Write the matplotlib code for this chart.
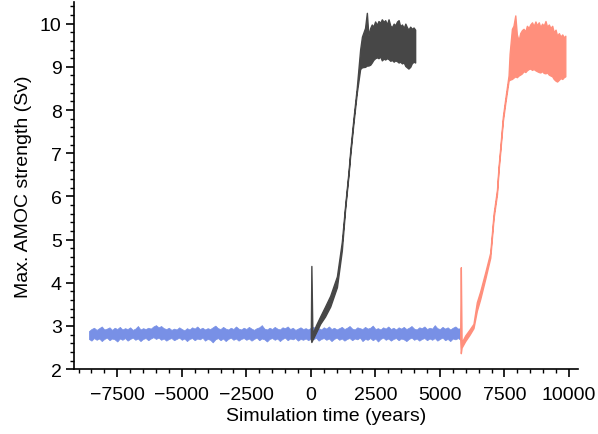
import numpy as np
import matplotlib
matplotlib.use("Agg")
import matplotlib.pyplot as plt
from matplotlib.ticker import MultipleLocator

plt.rcParams['font.family'] = ['Liberation Sans', 'DejaVu Sans']

# control run (blue): noise band envelope, every 100 years
ctrl_upper = [2.88, 2.93, 2.96, 2.91, 2.95, 2.99, 2.92, 2.94, 2.97, 2.91, 2.96, 2.93,
              2.98, 2.92, 2.95, 2.93, 2.97, 2.91, 2.94, 3.00, 2.92, 2.95, 2.93, 2.96,
              2.94, 2.99, 3.02, 2.97, 3.00, 2.95, 2.93, 2.96, 2.91, 2.94, 2.92, 2.97,
              2.93, 2.90, 2.95, 2.92, 2.97, 2.94, 2.99, 2.93, 2.96, 2.92, 2.95, 2.93,
              2.97, 3.01, 2.95, 2.93, 2.98, 2.94, 2.92, 2.96, 2.93, 2.99, 2.94, 2.92,
              2.96, 2.93, 2.98, 2.94, 2.91, 2.95, 2.97, 3.02, 2.94, 2.92, 2.96, 2.93,
              2.98, 2.94, 2.92, 2.97, 2.95, 2.99, 2.93, 2.96, 2.91, 2.94, 2.97, 2.93,
              2.95, 2.92, 2.96, 2.98, 2.93, 2.95, 2.92, 2.97, 2.94, 2.99, 2.93, 2.96,
              2.92, 2.95, 2.98, 2.93, 2.96, 3.00, 2.94, 2.92, 2.97, 2.95, 2.93, 2.98,
              2.94, 2.96, 3.01, 2.93, 2.95, 2.92, 2.97, 2.94, 2.99, 2.93, 2.96, 2.92,
              2.97, 2.94, 2.98, 2.93, 2.96, 3.00, 2.94, 2.92, 2.97, 2.95, 2.99, 2.93,
              2.96, 2.94, 3.02, 2.95, 2.93, 2.98, 2.94, 2.97, 2.92, 2.96, 2.99, 2.94,
              2.95]
ctrl_lower = [2.70, 2.66, 2.72, 2.68, 2.71, 2.65, 2.70, 2.73, 2.67, 2.71, 2.69, 2.64,
              2.71, 2.68, 2.72, 2.66, 2.70, 2.73, 2.68, 2.71, 2.65, 2.70, 2.72, 2.67,
              2.71, 2.74, 2.70, 2.73, 2.68, 2.71, 2.66, 2.70, 2.72, 2.67, 2.70, 2.73,
              2.68, 2.71, 2.65, 2.70, 2.72, 2.67, 2.71, 2.69, 2.73, 2.66, 2.70, 2.68,
              2.62, 2.69, 2.72, 2.67, 2.71, 2.65, 2.70, 2.73, 2.68, 2.71, 2.66, 2.70,
              2.72, 2.68, 2.71, 2.66, 2.70, 2.73, 2.67, 2.71, 2.69, 2.64, 2.70, 2.72,
              2.68, 2.71, 2.65, 2.70, 2.73, 2.67, 2.71, 2.69, 2.72, 2.66, 2.70, 2.68,
              2.71, 2.67, 2.72, 2.69, 2.73, 2.66, 2.70, 2.72, 2.68, 2.71, 2.65, 2.70,
              2.73, 2.68, 2.71, 2.66, 2.70, 2.72, 2.67, 2.71, 2.69, 2.73, 2.65, 2.70,
              2.68, 2.72, 2.67, 2.71, 2.64, 2.70, 2.73, 2.68, 2.71, 2.66, 2.70, 2.72,
              2.67, 2.71, 2.69, 2.65, 2.70, 2.73, 2.68, 2.71, 2.66, 2.70, 2.72, 2.67,
              2.71, 2.68, 2.72, 2.66, 2.70, 2.73, 2.67, 2.70, 2.65, 2.71, 2.69, 2.72,
              2.68]
ctrl_start, ctrl_end = -8600, 5800

# first recovery run (dark grey)
run1_time = [0, 20, 60, 200, 360, 550, 750, 1010, 1200, 1330, 1460, 1525, 1650, 1780,
             1910, 1980, 2100, 2170,
             2230, 2300, 2360, 2420, 2490, 2560, 2620, 2690, 2750, 2820, 2880, 2950,
             3010, 3080, 3140, 3210, 3270, 3340, 3400, 3460, 3530, 3600, 3660, 3720,
             3780, 3850, 3910, 3980, 4040]
run1_upper = [2.85, 4.39, 2.82, 3.02, 3.22, 3.45, 3.70, 4.15, 4.95, 5.80, 6.58, 7.05,
              7.80, 8.52, 9.40, 9.70, 9.90, 10.25,
              9.72, 9.90, 9.98, 9.93, 10.05, 9.97, 10.06, 10.02, 10.10, 10.04, 10.08, 9.98,
              10.10, 9.95, 9.92, 10.00, 9.96, 10.05, 10.08, 9.94, 9.98, 9.90, 10.00, 9.92,
              9.86, 9.93, 9.88, 9.91, 9.86]
run1_lower = [2.70, 2.63, 2.68, 2.85, 3.05, 3.22, 3.45, 3.90, 4.75, 5.72, 6.50, 6.95,
              7.70, 8.40, 8.95, 8.99, 9.00, 9.03,
              9.03, 9.05, 9.10, 9.16, 9.20, 9.22, 9.20, 9.24, 9.15, 9.19, 9.17, 9.20,
              9.18, 9.14, 9.16, 9.12, 9.15, 9.13, 9.10, 9.12, 9.08, 9.10, 9.02, 8.99,
              8.96, 9.00, 9.08, 9.12, 9.10]

# second recovery run (salmon)
run2_time = [5787, 5810, 5840, 5980, 6150, 6300, 6430, 6560, 6760, 6950, 7080, 7210,
             7270, 7340, 7440, 7530, 7660, 7700,
             7790, 7850, 7920, 7980, 8050, 8110, 8180, 8240, 8310, 8370, 8440, 8500,
             8570, 8630, 8700, 8760, 8830, 8890, 8960, 9020, 9090, 9150, 9220, 9280,
             9350, 9410, 9480, 9540, 9610, 9670, 9740, 9800, 9857]
run2_upper = [2.90, 4.36, 2.62, 2.78, 2.92, 3.05, 3.55, 3.80, 4.25, 4.70, 5.60, 6.15,
              6.68, 7.15, 7.85, 8.25, 8.80, 9.30,
              9.88, 9.95, 10.19, 9.75, 9.61, 9.78, 9.85, 9.88, 9.82, 9.95, 9.90, 9.98,
              10.03, 9.94, 10.05, 9.96, 10.03, 9.92, 10.00, 9.95, 10.06, 9.93, 9.98, 9.90,
              9.95, 9.80, 9.86, 9.72, 9.78, 9.70, 9.75, 9.68, 9.72]
run2_lower = [2.70, 2.37, 2.50, 2.65, 2.80, 2.95, 3.35, 3.62, 4.10, 4.58, 5.50, 6.05,
              6.58, 7.05, 7.75, 8.15, 8.68, 8.70,
              8.72, 8.75, 8.78, 8.76, 8.80, 8.82, 8.85, 8.90, 8.88, 8.92, 8.95, 8.96,
              8.93, 8.95, 8.92, 8.90, 8.88, 8.87, 8.90, 8.86, 8.85, 8.87, 8.82, 8.80,
              8.78, 8.72, 8.68, 8.66, 8.70, 8.74, 8.72, 8.76, 8.78]

xticks = [-7500, -5000, -2500, 0, 2500, 5000, 7500, 10000]
yticks = [2, 3, 4, 5, 6, 7, 8, 9, 10]

c_ctrl = '#7890e6'
c_run1 = '#474747'
c_run2 = '#ff8f7c'

fig = plt.figure(figsize=(5.98, 4.35), dpi=100)
ax = fig.add_axes([0.124, 0.149, 0.843, 0.844])

ctrl_time = np.linspace(ctrl_start, ctrl_end, len(ctrl_upper))
ax.fill_between(ctrl_time, ctrl_lower, ctrl_upper, color=c_ctrl, lw=0.5, zorder=2)

ax.fill_between(run1_time, run1_lower, run1_upper, color=c_run1, lw=1.0, zorder=3)
ax.fill_between(run2_time, run2_lower, run2_upper, color=c_run2, lw=1.0, zorder=3)

ax.set_xlim(-9170, 10360)
ax.set_ylim(2, 10.5)
ax.set_xticks(xticks)
ax.set_yticks(yticks)
ax.xaxis.set_minor_locator(MultipleLocator(500))
ax.yaxis.set_minor_locator(MultipleLocator(0.2))

for side in ['top', 'right']:
    ax.spines[side].set_visible(False)
for side in ['left', 'bottom']:
    ax.spines[side].set_linewidth(1.2)

ax.tick_params(which='major', direction='out', length=6, width=1.2, labelsize=14)
ax.tick_params(axis='x', which='major', pad=6)
ax.tick_params(axis='y', which='major', pad=3)
ax.tick_params(which='minor', direction='out', length=3, width=1.0)

ax.set_xlabel('Simulation time (years)', fontsize=14, labelpad=3)
ax.set_ylabel('Max. AMOC strength (Sv)', fontsize=14, labelpad=6)

fig.savefig('out.png', dpi=100)
